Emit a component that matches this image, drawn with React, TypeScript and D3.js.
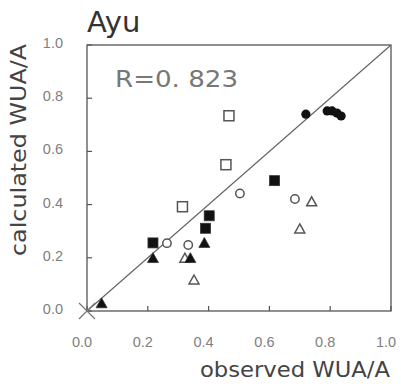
import React from "react";
import * as d3 from "d3";

const W = 401;
const H = 388;

const xTicks = [0, 0.2, 0.4, 0.6, 0.8, 1.0];
const yTicks = [0, 0.2, 0.4, 0.6, 0.8, 1.0];

const filledCircles: [number, number][] = [
  [0.72, 0.74], [0.79, 0.752], [0.806, 0.752], [0.822, 0.744], [0.836, 0.733],
];
const openSquares: [number, number][] = [
  [0.467, 0.734], [0.457, 0.55], [0.314, 0.392],
];
const filledSquares: [number, number][] = [
  [0.217, 0.256], [0.402, 0.358], [0.39, 0.311], [0.617, 0.49],
];
const openCircles: [number, number][] = [
  [0.263, 0.255], [0.333, 0.248], [0.503, 0.442], [0.684, 0.421],
];
const openTriangles: [number, number][] = [
  [0.322, 0.197], [0.352, 0.115], [0.739, 0.409], [0.70, 0.307],
];
const filledTriangles: [number, number][] = [
  [0.048, 0.027], [0.217, 0.197], [0.34, 0.197], [0.386, 0.254],
];

const title = "Ayu";
const rText = "R=0. 823";
const xLabel = "observed WUA/A";
const yLabel = "calculated WUA/A";

export default function App() {
  const x = d3.scaleLinear().domain([0, 1]).range([87, 391]);
  const y = d3.scaleLinear().domain([0, 1]).range([311, 45]);
  const fmt = d3.format(".1f");
  const axisColor = "#555";
  const markStroke = "#333";

  const tri = (cx: number, cy: number, s: number) => {
    const h = s * 0.9;
    return `M${cx},${cy - h * 0.6}L${cx + s / 2},${cy + h * 0.4}L${cx - s / 2},${cy + h * 0.4}Z`;
  };

  return (
    <svg
      width={W}
      height={H}
      style={{ position: "absolute", left: 0, top: 0, background: "#fff" }}
      fontFamily="'Liberation Sans', Arial, sans-serif"
    >
      <rect x={0} y={0} width={W} height={H} fill="#fff" />
      <rect
        x={x(0)}
        y={y(1)}
        width={x(1) - x(0)}
        height={y(0) - y(1)}
        fill="none"
        stroke={axisColor}
        strokeWidth={1.3}
      />
      {xTicks.map((t) => (
        <g key={"xt" + t}>
          <line x1={x(t)} x2={x(t)} y1={y(0)} y2={y(0) - 5} stroke={axisColor} strokeWidth={1.2} />
          <text x={x(t) - 5} y={347} textAnchor="middle" fontSize={14.5} fill="#808080">
            {fmt(t)}
          </text>
        </g>
      ))}
      {yTicks.map((t) => (
        <g key={"yt" + t}>
          <line x1={x(0)} x2={x(0) + 5} y1={y(t)} y2={y(t)} stroke={axisColor} strokeWidth={1.2} />
          <text x={63} y={y(t) + 3} textAnchor="end" fontSize={14.5} fill="#808080">
            {fmt(t)}
          </text>
        </g>
      ))}
      <line x1={x(0)} y1={y(0)} x2={x(1)} y2={y(1)} stroke="#666" strokeWidth={1.2} />
      <path
        d={`M${x(0) - 8},${y(0) - 8}L${x(0) + 8},${y(0) + 8}M${x(0) - 8},${y(0) + 8}L${x(0) + 8},${y(0) - 8}`}
        stroke="#777"
        strokeWidth={1.2}
      />
      {openSquares.map(([a, b], i) => (
        <rect key={"os" + i} x={x(a) - 5} y={y(b) - 5} width={10} height={10} fill="#fff" stroke="#555" strokeWidth={1.5} />
      ))}
      {filledSquares.map(([a, b], i) => (
        <rect key={"fs" + i} x={x(a) - 5} y={y(b) - 5} width={10} height={10} fill="#111" stroke={markStroke} strokeWidth={0.8} />
      ))}
      {openCircles.map(([a, b], i) => (
        <circle key={"oc" + i} cx={x(a)} cy={y(b)} r={4.2} fill="#fff" stroke="#555" strokeWidth={1.5} />
      ))}
      {openTriangles.map(([a, b], i) => (
        <path key={"ot" + i} d={tri(x(a), y(b), 10)} fill="#fff" stroke="#555" strokeWidth={1.5} />
      ))}
      {filledTriangles.map(([a, b], i) => (
        <path key={"ft" + i} d={tri(x(a), y(b), 11)} fill="#111" stroke={markStroke} strokeWidth={0.8} />
      ))}
      {filledCircles.map(([a, b], i) => (
        <circle key={"fc" + i} cx={x(a)} cy={y(b)} r={4.6} fill="#111" />
      ))}
      <text x={87} y={32} fontSize={29} fill="#333" fontFamily="'DejaVu Sans', sans-serif">
        {title}
      </text>
      <text
        x={115}
        y={87}
        fontSize={23}
        fill="#777"
        fontFamily="'DejaVu Sans', sans-serif"
        textLength={123}
        lengthAdjust="spacingAndGlyphs"
      >
        {rText}
      </text>
      <text
        x={390}
        y={377}
        textAnchor="end"
        fontSize={21}
        fill="#444"
        fontFamily="'DejaVu Sans', sans-serif"
        textLength={190}
        lengthAdjust="spacingAndGlyphs"
      >
        {xLabel}
      </text>
      <text
        transform={`translate(26,150) rotate(-90)`}
        textAnchor="middle"
        fontSize={21}
        fill="#444"
        fontFamily="'DejaVu Sans', sans-serif"
        textLength={212}
        lengthAdjust="spacingAndGlyphs"
      >
        {yLabel}
      </text>
    </svg>
  );
}
